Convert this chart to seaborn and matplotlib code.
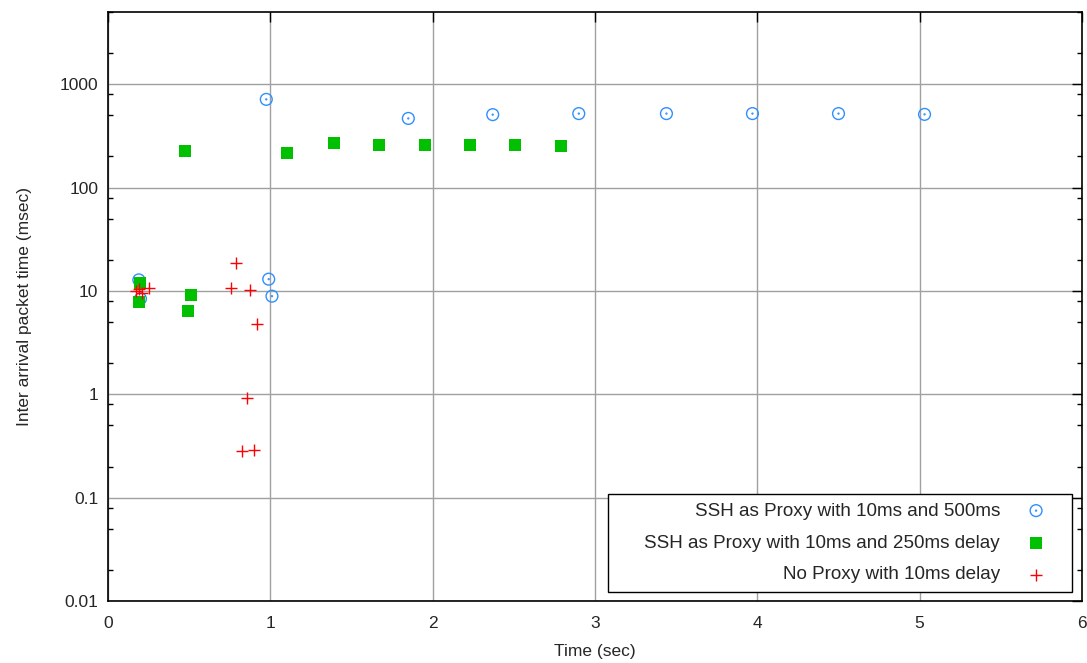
import numpy as np
import pandas as pd
import matplotlib
matplotlib.use("Agg")
import matplotlib.pyplot as plt
from matplotlib.path import Path
from matplotlib.ticker import FixedLocator, NullFormatter
import seaborn as sns

# ---- data ----
circ_x = [0.19, 0.20, 0.975, 0.99, 1.01, 1.85, 2.37, 2.90, 3.44, 3.97, 4.50, 5.03]
circ_y = [12.8, 8.4, 714, 13.0, 8.9, 467, 508, 520, 520, 520, 520, 511]

sq_x = [0.19, 0.195, 0.474, 0.49, 0.513, 1.103, 1.39, 1.67, 1.95, 2.23, 2.51, 2.79]
sq_y = [7.8, 12.0, 225, 6.4, 9.1, 214, 273, 260, 258, 258, 256, 254]

cross_x = [0.17, 0.19, 0.21, 0.255, 0.758, 0.789, 0.828, 0.856, 0.877, 0.898, 0.92]
cross_y = [10.0, 10.4, 9.6, 10.7, 10.6, 18.7, 0.28, 0.92, 10.3, 0.286, 4.75]

labels = ["SSH as Proxy with 10ms and 500ms",
          "SSH as Proxy with 10ms and 250ms delay",
          "No Proxy with 10ms delay"]

x_ticks = [0, 1, 2, 3, 4, 5, 6]
y_ticks = [0.01, 0.1, 1, 10, 100, 1000]
y_tick_labels = ["0.01", "0.1", "1", "10", "100", "1000"]

sns.set_style("white")
plt.rcParams["font.family"] = ["Liberation Sans", "DejaVu Sans"]

fig = plt.figure(figsize=(10.87, 6.63), dpi=100)
ax = fig.add_axes([108 / 1087, 1 - 601 / 663, 974 / 1087, 589 / 663])

circ_df = pd.DataFrame({"x": circ_x, "y": circ_y})
sq_df = pd.DataFrame({"x": sq_x, "y": sq_y})
cr_df = pd.DataFrame({"x": cross_x, "y": cross_y})

dot_circle = Path.make_compound_path(Path.circle((0, 0), 1.0), Path.circle((0, 0), 0.08))

sns.scatterplot(data=circ_df, x="x", y="y", ax=ax, marker=dot_circle, s=72,
                facecolors="none", edgecolor="#2f8fff", linewidth=1.0,
                label=labels[0], zorder=3)
sns.scatterplot(data=sq_df, x="x", y="y", ax=ax, marker="s", s=68,
                color="#00c000", edgecolor="#00c000", linewidth=0,
                label=labels[1], zorder=3)
sns.scatterplot(data=cr_df, x="x", y="y", ax=ax, marker="+", s=72,
                color="#ff0000", linewidth=1.0,
                label=labels[2], zorder=3)

ax.set_yscale("log")
ax.set_xlim(0, 6)
ax.set_ylim(0.01, 5000)

ax.xaxis.set_major_locator(FixedLocator(x_ticks))
ax.set_xticklabels([str(t) for t in x_ticks])
ax.yaxis.set_major_locator(FixedLocator(y_ticks))
ax.set_yticklabels(y_tick_labels)
minor = [m * 10.0 ** e for e in range(-2, 4) for m in (2, 5, 8)]
ax.yaxis.set_minor_locator(FixedLocator(minor))
ax.yaxis.set_minor_formatter(NullFormatter())

ax.tick_params(axis="both", which="major", direction="in", length=7, width=1.0,
               top=True, right=True, labelsize=12.5, color="black")
ax.tick_params(axis="y", which="major", pad=7)
ax.tick_params(axis="x", which="major", pad=11)
ax.tick_params(axis="both", which="minor", direction="in", length=3.6, width=1.0,
               top=False, right=True, left=True, color="black")
ax.tick_params(axis="x", which="minor", bottom=False, top=False)

ax.grid(True, which="major", color="#a0a0a0", linewidth=1.0)
ax.set_axisbelow(True)
for sp in ax.spines.values():
    sp.set_color("black")
    sp.set_linewidth(1.2)

ax.set_xlabel("Time (sec)", fontsize=12.5, labelpad=9)
ax.set_ylabel("Inter arrival packet time (msec)", fontsize=12.5, labelpad=20)

leg = ax.legend(loc="lower right", bbox_to_anchor=(0.9897, 0.0153), borderaxespad=0,
                markerfirst=False, fancybox=False, framealpha=1, edgecolor="black",
                fontsize=13.6, handlelength=2.9, handletextpad=0.45, labelspacing=0.78,
                borderpad=0.45)


def wide_left_box(x0, y0, width, height, mutation_size):
    extra = 1.5 * mutation_size
    return Path([(x0 - extra, y0), (x0 + width, y0), (x0 + width, y0 + height),
                 (x0 - extra, y0 + height), (x0 - extra, y0)], closed=True)


leg.get_frame().set_boxstyle(wide_left_box)
leg.get_frame().set_linewidth(1.0)

fig.savefig("out.png", dpi=100)
